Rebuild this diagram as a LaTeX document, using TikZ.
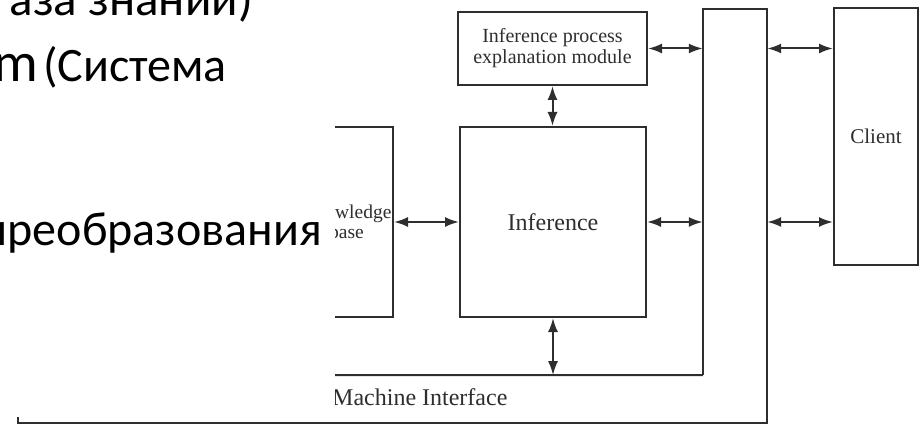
\documentclass[tikz,border=0pt]{standalone}
\usepackage{fontspec}
\setmainfont{Liberation Serif}
\newfontfamily\slidefont{Carlito}
\usetikzlibrary{arrows.meta}

\begin{document}
\begin{tikzpicture}[x=1pt,y=-1pt,
  ink/.style={draw=black!82, line width=2pt},
  blk/.style={ink, fill=white, inner sep=0pt, align=center, text=black!82},
  link/.style={ink, {Latex[length=14pt,width=10pt]}-{Latex[length=14pt,width=10pt]}},
  slide/.style={inner sep=0pt, text=black},
  big/.style={font=\slidefont\fontsize{49}{59}\selectfont},
]
\useasboundingbox (0,0) rectangle (924,425);

% slide text lines
\node[slide, big, anchor=base east] (line1) at (253,16) {аза знаний)};
\node[slide, font=\slidefont\fontsize{56}{66}\selectfont, anchor=base east] (line2a) at (38,82) {m};
\node[slide, font=\slidefont\fontsize{48}{58}\selectfont, anchor=base west] (line2b) at (43,82) {(Система};
\node[slide, font=\slidefont\fontsize{48}{58}\selectfont, anchor=base east] (line3) at (322,245) {преобразования};

% outer border of the interface region, running along the bottom
\node[minimum width=64pt, minimum height=366pt, inner sep=0pt] (bar) at (735,192) {};
\draw[ink] (18,417) -- (18,423) -| (bar.north east) -- (bar.north west) -- (bar.south west);

\begin{scope}
  \clip (335,0) rectangle (924,425);
  \coordinate (cut) at (335,375);
  \draw[ink] (bar.south west) -- (cut);

  \node[blk, minimum width=93pt, minimum height=190pt,
        font=\fontsize{19.5}{20}\selectfont] (kb) at (346.5,222) {Knowledge\\base};
  \node[blk, minimum width=186pt, minimum height=190pt,
        font=\fontsize{24}{28}\selectfont] (inf) at (553,222) {Inference};
  \node[blk, minimum width=189pt, minimum height=73pt,
        font=\fontsize{20}{21}\selectfont] (expl) at (552.5,48.5) {Inference process\\explanation module};
  \node[blk, minimum width=84pt, minimum height=257pt,
        font=\fontsize{21}{25}\selectfont] (client) at (876,136.5) {Client};

  \node[inner sep=0pt, anchor=base west, text=black!82,
        font=\fontsize{24}{28}\selectfont] (hmi) at (332,405) {Machine Interface};

  % two-way links
  \draw[link] (kb.east) -- (inf.west);
  \draw[link] (expl.south) -- (expl.south |- inf.north);
  \draw[link] (expl.east) -- (expl.east -| bar.west);
  \draw[link] (inf.east) -- (inf.east -| bar.west);
  \draw[link] (bar.east |- expl.east) -- (client.west |- expl.east);
  \draw[link] (bar.east |- inf.east) -- (client.west |- inf.east);
  \draw[link] (inf.south) -- (inf.south |- bar.south);
\end{scope}
\end{tikzpicture}
\end{document}
